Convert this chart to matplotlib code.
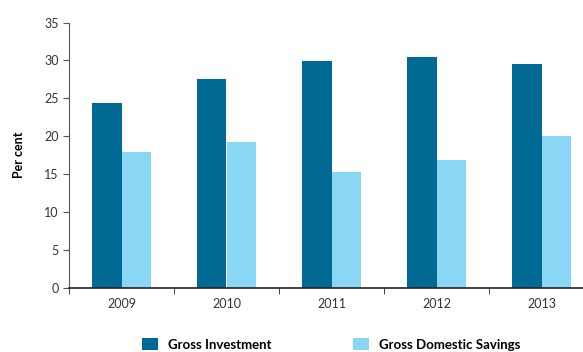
"""Bar chart of gross investment and gross domestic savings, 2009-2013."""
import matplotlib.pyplot as plt
import numpy as np

years = ['2009', '2010', '2011', '2012', '2013']
gross_investment = [24.4, 27.5, 29.9, 30.5, 29.5]
gross_savings = [17.9, 19.2, 15.3, 16.9, 20.0]

DARK = '#006a94'
LIGHT = '#8ad6f5'

plt.rcParams['font.family'] = ['Lato', 'DejaVu Sans']

fig = plt.figure(figsize=(5.83, 3.52), dpi=100)
ax = fig.add_axes([69 / 583, 64 / 352, 525 / 583, 265.5 / 352])

x = np.arange(len(years))
width = 0.285
ax.bar(x - width / 2, gross_investment, width, color=DARK, label='Gross Investment')
ax.bar(x + width / 2, gross_savings, width, color=LIGHT, label='Gross Domestic Savings')

ax.set_xlim(-0.5, len(years) - 0.5)
ax.set_ylim(0, 35)
ax.set_yticks(range(0, 36, 5))
ax.set_xticks(x)
ax.set_xticklabels(years)
# category boundaries carry the tick marks
ax.set_xticks(np.arange(-0.5, len(years)), minor=True)
ax.tick_params(axis='x', which='major', length=0, pad=7, labelsize=9, labelcolor='#333333')
ax.tick_params(axis='x', which='minor', length=4, direction='out', color='#222222')
ax.tick_params(axis='y', length=4, direction='out', labelsize=9, labelcolor='#333333', color='#555555')

for side in ('top', 'right'):
    ax.spines[side].set_visible(False)
ax.spines['left'].set_color('#555555')
ax.spines['bottom'].set_color('#222222')
ax.spines['bottom'].set_linewidth(1.2)

ax.set_ylabel('Per cent', fontsize=9, fontweight='bold', labelpad=14)

fig.legend(loc='upper left', bbox_to_anchor=(133 / 583, 23 / 352), ncol=2,
           frameon=False, handlelength=1.2, handleheight=1.0,
           columnspacing=6.2, handletextpad=0.75, borderpad=0.2,
           prop={'weight': 'bold', 'size': 9.5})

fig.savefig('out.png', dpi=100)
